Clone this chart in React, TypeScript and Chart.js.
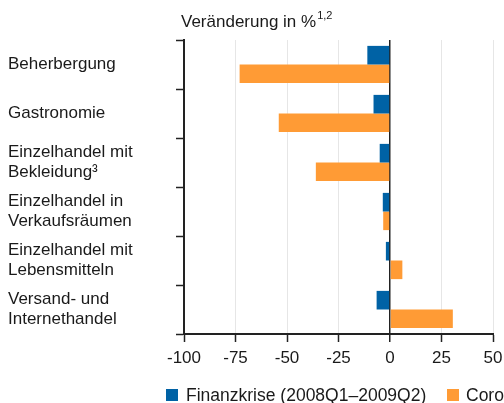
import React, { useEffect, useRef } from "react";
import { Chart, registerables } from "chart.js";

Chart.register(...registerables);

const categories: string[][] = [
  ["Beherbergung"],
  ["Gastronomie"],
  ["Einzelhandel mit", "Bekleidung³"],
  ["Einzelhandel in", "Verkaufsräumen"],
  ["Einzelhandel mit", "Lebensmitteln"],
  ["Versand- und", "Internethandel"],
];
const finanzkrise = [-11, -8, -5, -3.5, -2, -6.5];
const coronakrise = [-73, -54, -36, -3.3, 6, 30.5];
const seriesNames = ["Finanzkrise (2008Q1–2009Q2)", "Coronakrise (2020Q1–2020Q2)"];
const colors = ["#0062a5", "#ff9b35"];
const xMin = -100;
const xMax = 50;
const xStep = 25;

const FONT = "'Liberation Sans', Arial, sans-serif";

const overlay = {
  id: "overlay",
  afterDraw(chart: any) {
    const ctx = chart.ctx;
    ctx.save();
    ctx.fillStyle = "#1a1a1a";
    ctx.textBaseline = "middle";
    ctx.textAlign = "left";
    ctx.font = `17px ${FONT}`;
    const t = "Veränderung in %";
    ctx.fillText(t, 181, 22);
    const w = ctx.measureText(t).width;
    ctx.font = `11px ${FONT}`;
    ctx.fillText("1,2", 181 + w + 1, 16);
    // legend
    const ly = 395;
    const items = [
      { x: 166, tx: 186 },
      { x: 447, tx: 466 },
    ];
    ctx.font = `17.5px ${FONT}`;
    items.forEach((it, i) => {
      ctx.fillStyle = colors[i];
      ctx.fillRect(it.x, ly - 6, 12, 12);
      ctx.fillStyle = "#1a1a1a";
      ctx.fillText(seriesNames[i], it.tx, ly + 1);
    });
    ctx.restore();
  },
};

export default function App() {
  const ref = useRef<HTMLCanvasElement>(null);
  useEffect(() => {
    document.body.style.margin = "0";
    const chart = new Chart(ref.current!, {
      type: "bar",
      data: {
        labels: categories,
        datasets: [
          {
            label: seriesNames[0],
            data: finanzkrise,
            backgroundColor: colors[0],
            barPercentage: 1,
            categoryPercentage: 0.76,
          },
          {
            label: seriesNames[1],
            data: coronakrise,
            backgroundColor: colors[1],
            barPercentage: 1,
            categoryPercentage: 0.76,
          },
        ],
      },
      options: {
        indexAxis: "y",
        animation: false,
        responsive: false,
        layout: { padding: { top: 40, left: 8, right: 11, bottom: 0 } },
        plugins: { legend: { display: false }, tooltip: { enabled: false } },
        scales: {
          x: {
            min: xMin,
            max: xMax,
            afterFit: (s: any) => {
              s.height = 69;
              s.paddingLeft = 0;
              s.paddingRight = 0;
            },
            ticks: {
              stepSize: xStep,
              color: "#1a1a1a",
              font: { family: FONT, size: 17 },
              padding: 6,
            },
            grid: {
              color: (c: any) => (c.tick && c.tick.value === 0 ? "#222" : "#e6e6e6"),
              lineWidth: (c: any) => (c.tick && c.tick.value === 0 ? 1.5 : 1),
              tickColor: "#222",
              tickLength: 8,
              tickWidth: 1.5,
            },
            border: { display: true, color: "#222", width: 2 },
          },
          y: {
            afterFit: (s: any) => {
              s.width = 176;
              s.paddingTop = 0;
              s.paddingBottom = 0;
            },
            ticks: {
              crossAlign: "far",
              color: "#1a1a1a",
              font: { family: FONT, size: 17, lineHeight: 1.2 },
            },
            grid: {
              display: true,
              drawOnChartArea: false,
              offset: true,
              tickColor: "#222",
              tickLength: 8,
              tickWidth: 1.5,
            },
            border: { display: true, color: "#222", width: 2 },
          },
        },
      },
      plugins: [overlay],
    });
    return () => chart.destroy();
  }, []);
  return <canvas ref={ref} width={504} height={403} style={{ display: "block" }} />;
}
